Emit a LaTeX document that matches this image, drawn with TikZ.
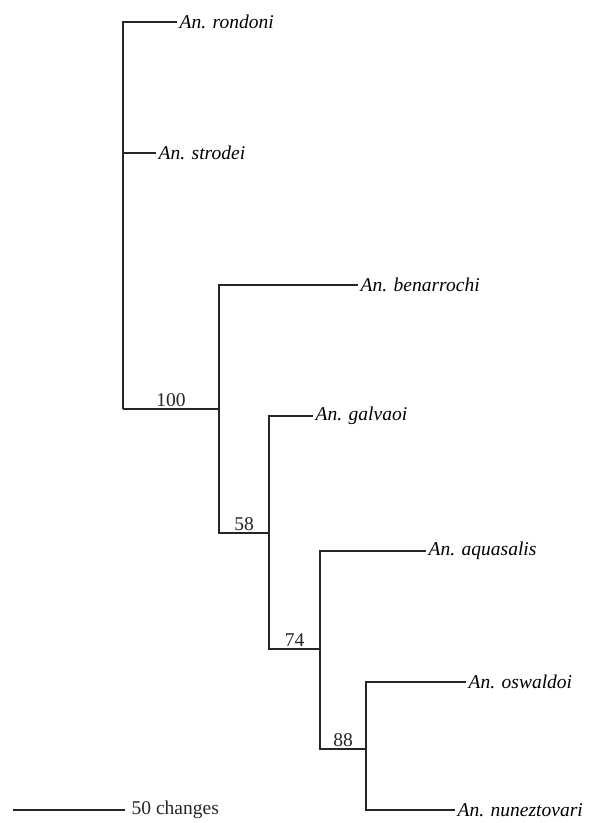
\documentclass[tikz,border=0pt]{standalone}
\usepackage{fontspec}
\setmainfont{Liberation Serif}
\usetikzlibrary{positioning}

\begin{document}
\begin{tikzpicture}[
    x=1pt, y=-1pt,
    branch/.style={line width=1.4pt, black!85},
    leaf/.style={anchor=west, inner sep=2.5pt, font=\fontsize{19.5}{22}\selectfont\itshape},
    support/.style={above, inner sep=1.5pt, font=\fontsize{19.5}{22}\selectfont}
]
\useasboundingbox (0,0) rectangle (593,823);

% 内部ノード
\coordinate (root) at (123,409);
\coordinate (nA) at (219,409);
\coordinate (nB) at (269,533);
\coordinate (nC) at (320,649);
\coordinate (nD) at (366,749);

% 種名
\node[leaf] (rondoni) at (177,22) {An. rondoni};
\node[leaf] (strodei) at (156,153) {An. strodei};
\node[leaf] (benarrochi) at (358,285) {An. benarrochi};
\node[leaf] (galvaoi) at (313,416) {An. galvaoi};
\node[leaf] (aquasalis) at (426,551) {An. aquasalis};
\node[leaf] (oswaldoi) at (466,682) {An. oswaldoi};
\node[leaf] (nuneztovari) at (455,810) {An. nuneztovari};

% 根
\draw[branch] (root) |- (rondoni.west);
\draw[branch] (root) |- (strodei.west);
\draw[branch] (root) -- (nA) node[support, midway] {100};

% クレード
\draw[branch] (nA) |- (benarrochi.west);
\draw[branch] (nA) |- (nB) node[support, pos=0.75] {58};
\draw[branch] (nB) |- (galvaoi.west);
\draw[branch] (nB) |- (nC) node[support, pos=0.75] {74};
\draw[branch] (nC) |- (aquasalis.west);
\draw[branch] (nC) |- (nD) node[support, pos=0.75] {88};
\draw[branch] (nD) |- (oswaldoi.west);
\draw[branch] (nD) |- (nuneztovari.west);

% スケール
\coordinate (barL) at (13,810);
\coordinate (barR) at (125,810);
\draw[branch] (barL) -- (barR)
    node[right=6pt, font=\fontsize{19.5}{22}\selectfont, inner sep=0pt] {50 changes};

\end{tikzpicture}
\end{document}
